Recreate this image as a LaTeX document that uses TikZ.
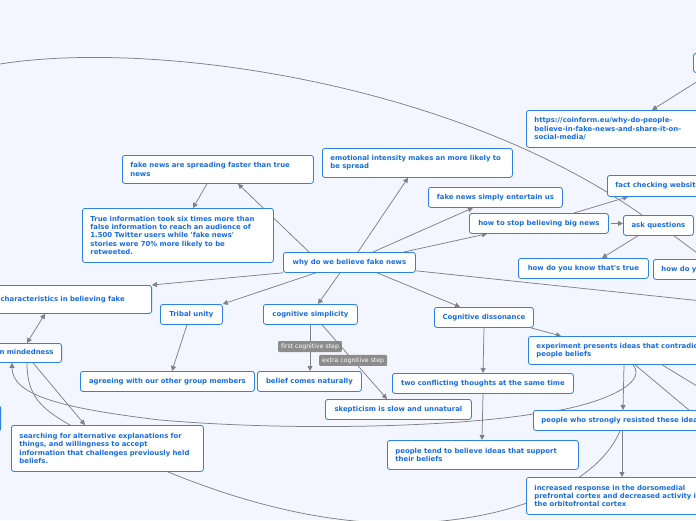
\documentclass[tikz,border=0pt]{standalone}
\usepackage{fontspec}
\newfontfamily\mapfont{DejaVu Sans}
\usetikzlibrary{arrows.meta}
\definecolor{fondo}{RGB}{243,246,254}
\definecolor{borde}{RGB}{45,130,230}
\definecolor{texto}{RGB}{25,110,220}
\definecolor{gris}{RGB}{128,128,134}
\definecolor{grisclaro}{RGB}{140,140,140}
\pgfdeclarelayer{atras}
\pgfsetlayers{atras,main}
\begin{document}
\begin{tikzpicture}[x=1pt, y=-1pt,
    idea/.style={draw=borde, fill=white, rounded corners=2.5pt, line width=0.8pt, text=texto,
      font=\mapfont\bfseries\fontsize{6.9}{8.3}\selectfont, inner xsep=8pt, inner ysep=0pt,
      minimum height=20pt, anchor=north west},
    parr/.style={text width=#1, align=left},
    linea/.style={draw=gris, line width=0.75pt},
    flecha/.style={linea, -{Triangle[length=5pt, width=5pt]}},
    doble/.style={linea, {Triangle[length=5pt, width=5pt]}-{Triangle[length=5pt, width=5pt]}},
    paso/.style={fill=grisclaro, text=white, font=\mapfont\fontsize{6.2}{7}\selectfont,
      inner xsep=3pt, inner ysep=1.5pt, minimum height=11pt, rounded corners=1pt}]
    \useasboundingbox (0,0) rectangle (696,520);
    % raiz
    \node[idea, minimum width=132pt] (raiz) at (283,252) {why do we believe fake news};
    % arriba a la izquierda
    \node[idea, parr=175pt, minimum height=28pt] (rapido) at (122,155) {fake news are spreading faster than true\\news};
    \node[idea, parr=175pt, minimum height=54pt] (twitter) at (82,208) {True information took six times more than\\false information to reach an audience of\\1.500 Twitter users while 'fake news'\\stories were 70\% more likely to be\\retweeted.};
    % arriba a la derecha
    \node[idea, parr=174pt, minimum height=29pt] (emocion) at (322,148) {emotional intensity makes an more likely to\\be spread};
    \node[idea, minimum width=134pt] (entretiene) at (428,187) {fake news simply entertain us};
    \node[idea, minimum width=139pt] (parar) at (469,213) {how to stop believing big news};
    \node[idea, minimum height=21pt] (verificar) at (607,175) {fact checking websites};
    \node[idea, minimum width=70pt] (preguntas) at (623,215) {ask questions};
    \node[idea, minimum width=130pt] (saber) at (518,258) {how do you know that's true};
    \node[idea] (comoque) at (653,259) {how do you};
    \node[idea, parr=190pt, minimum height=37pt] (coinform) at (526,110) {https://coinform.eu/why-do-people-\\believe-in-fake-news-and-share-it-on-\\social-media/};
    \node[idea, minimum width=80pt, minimum height=19pt] (fuente) at (693,53) {};
    % izquierda
    \node[idea, anchor=north east, parr=143pt, minimum height=28pt] (rasgos) at (152,285) {characteristics in believing fake};
    \node[idea, anchor=north east, text width=70pt, align=right, minimum height=19pt] (apertura) at (62,343) {open mindedness};
    \node[idea, anchor=north east, minimum width=40pt, minimum height=26pt] (oculto) at (1,405) {};
    \node[idea, parr=176pt, minimum height=46pt] (buscar) at (11,425) {searching for alternative explanations for\\things, and willingness to accept\\information that challenges previously held\\beliefs.};
    % centro
    \node[idea, minimum width=62pt] (tribu) at (160,304) {Tribal unity};
    \node[idea, minimum width=174pt] (acuerdo) at (80,371) {agreeing with our other group members};
    \node[idea, minimum width=94pt] (simple) at (263,304) {cognitive simplicity};
    \node[idea, minimum width=104pt] (natural) at (257,371) {belief comes naturally};
    \node[idea, minimum width=146pt] (esceptico) at (325,399) {skepticism is slow and unnatural};
    % disonancia
    \node[idea, minimum width=99pt] (disonancia) at (434,307) {Cognitive dissonance};
    \node[idea, parr=200pt, minimum height=28pt] (experimento) at (528,336) {experiment presents ideas that contradict\\people beliefs};
    \node[idea, minimum width=181pt] (conflicto) at (392,373) {two conflicting thoughts at the same time};
    \node[idea, parr=175pt, minimum height=29pt] (apoyo) at (387,440) {people tend to believe ideas that support\\their beliefs};
    \node[idea] (resistencia) at (533,410) {people who strongly resisted these ideas};
    \node[idea, parr=200pt, minimum height=37pt] (cortex) at (526,477) {increased response in the dorsomedial\\prefrontal cortex and decreased activity in\\the orbitofrontal cortex};
    % extremos sueltos
    \coordinate (arriba) at (0,64);
    \coordinate (preglejos) at (720,270);
    \coordinate (raizlejos) at (740,305);
    \coordinate (explejos1) at (720,436);
    \coordinate (explejos2) at (730,406);
    \begin{pgfonlayer}{atras}
        \fill[fondo] (0,0) rectangle (696,520);
        \draw[flecha] ([xshift=26pt]raiz.north west) -- ([xshift=116pt]rapido.south west);
        \draw[flecha] ([xshift=85pt]rapido.south west) -- ([xshift=111pt]twitter.north west);
        \draw[flecha] ([xshift=75pt]raiz.north west) -- ([xshift=86pt]emocion.south west);
        \draw[flecha] ([xshift=90pt]raiz.north west) -- ([xshift=45pt]entretiene.south west);
        \draw[flecha] ([xshift=-12pt]raiz.north east) -- ([xshift=18pt]parar.south west);
        \draw[flecha] ([xshift=105pt]parar.north west) -- ([xshift=21pt]verificar.south west);
        \draw[flecha] ([xshift=2pt]parar.east) -- ([yshift=2pt]preguntas.west);
        \draw[flecha] ([xshift=15pt]preguntas.south west) -- ([xshift=84pt]saber.north west);
        \draw[linea] ([xshift=51pt]preguntas.south west) -- (preglejos);
        \draw[linea] (arriba) .. controls (150,40) and (450,80) .. ([xshift=19pt]preguntas.north west);
        \draw[flecha] ([xshift=18pt]fuente.south west) -- ([xshift=126pt]coinform.north west);
        \draw[flecha] (raiz.south west) -- (rasgos.north east);
        \draw[flecha] ([xshift=33pt]raiz.south west) -- (tribu.north east);
        \draw[flecha] ([xshift=57pt]raiz.south west) -- ([xshift=55pt]simple.north west);
        \draw[flecha] ([xshift=94pt]raiz.south west) -- ([xshift=26pt]disonancia.north west);
        \draw[linea] ([yshift=2pt]raiz.south east) -- (raizlejos);
        \draw[doble] ([xshift=-107pt]rasgos.south east) -- ([xshift=-35pt]apertura.north east);
        \draw[flecha] ([xshift=27pt]tribu.south west) -- ([xshift=92pt]acuerdo.north west);
        \draw[flecha] ([xshift=47pt]simple.south west) -- node[paso, pos=0.47] (primero) {first cognitive step} ([xshift=53pt]natural.north west);
        \draw[flecha] ([xshift=59pt]simple.south west) -- node[paso, pos=0.48] (extra) {extra cognitive step} ([xshift=62pt]esceptico.north west);
        \draw[flecha] ([xshift=50pt]disonancia.south west) -- ([xshift=91pt]conflicto.north west);
        \draw[flecha] ([xshift=-3pt]disonancia.south east) -- ([xshift=33pt]experimento.north west);
        \draw[flecha] ([xshift=91pt]conflicto.south west) -- ([xshift=95pt]apoyo.north west);
        \draw[flecha] ([xshift=96pt]experimento.south west) -- ([xshift=90pt]resistencia.north west);
        \draw[linea] ([xshift=107pt]experimento.south west) -- (explejos1);
        \draw[linea] ([xshift=134pt]experimento.south west) -- (explejos2);
        \draw[flecha] ([xshift=105pt]experimento.south west) .. controls (650,385) and (592,408) .. (533,414)
            .. controls (460,426) and (300,432) .. (160,420) .. controls (60,408) and (12,395) .. ([xshift=-50pt]apertura.south east);
        \draw[linea] ([xshift=87pt]resistencia.south west) .. controls (600,480) and (520,520) .. (410,523)
            .. controls (300,526) and (180,485) .. (70,425) .. controls (40,408) and (27,395) .. ([xshift=-35pt]apertura.south east);
        \draw[flecha] ([xshift=-29pt]apertura.south east) -- ([xshift=74pt]buscar.north west);
        \draw[flecha] ([xshift=89pt]resistencia.south west) -- ([xshift=96pt]cortex.north west);
    \end{pgfonlayer}
\end{tikzpicture}
\end{document}
